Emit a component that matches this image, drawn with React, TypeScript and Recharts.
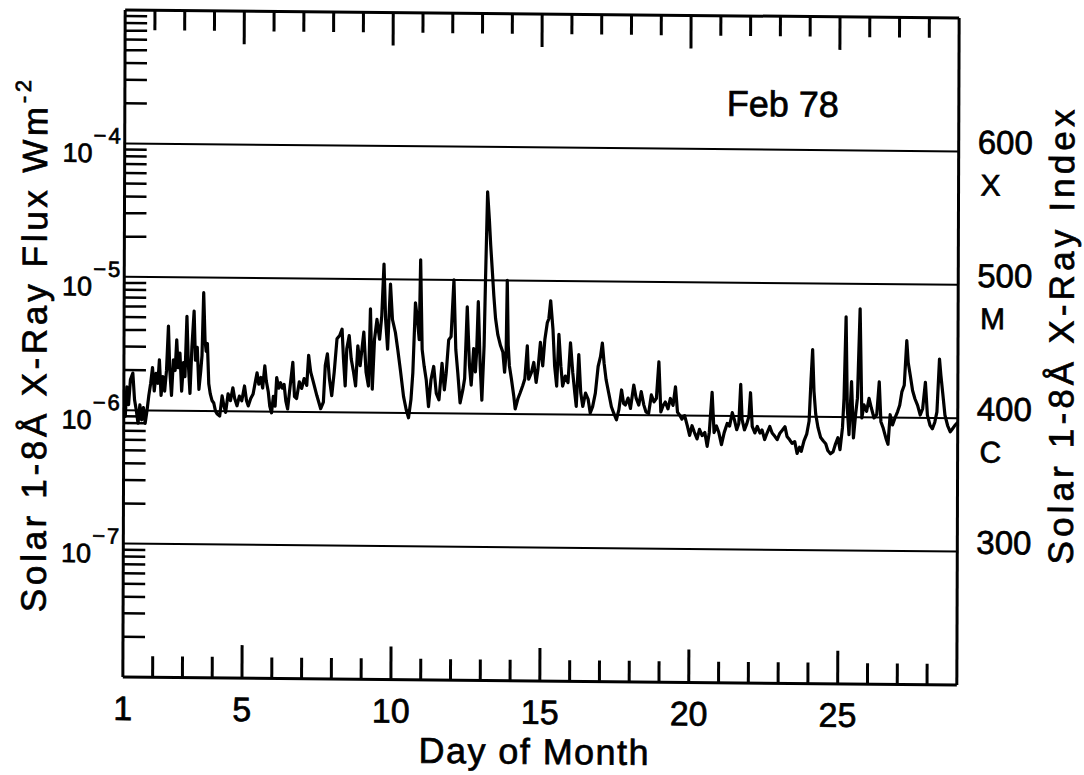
import React from 'react';
import { LineChart, Line, XAxis, YAxis, ReferenceLine } from 'recharts';

// Solar 1-8 Å X-ray flux, February 1978, in units of 1e-6 W m^-2 (C1 = 1.0)
const week1: [number, number][] = [
  [1.0, 1.3], [1.05, 0.9], [1.1, 1.5], [1.16, 1.1], [1.22, 1.7], [1.3, 1.9], [1.36, 1.2], [1.42, 1.0],
  [1.48, 0.8], [1.54, 1.1], [1.6, 0.85], [1.66, 1.05], [1.72, 0.8], [1.78, 1.0], [1.84, 1.3], [1.9, 1.6],
  [1.96, 2.1], [2.02, 1.4], [2.08, 1.9], [2.14, 1.6], [2.19, 2.4], [2.25, 1.3], [2.31, 1.8], [2.37, 1.4],
  [2.43, 2.0], [2.49, 4.3], [2.54, 2.0], [2.6, 1.3], [2.66, 2.4], [2.72, 2.0], [2.77, 3.4], [2.82, 2.1],
  [2.88, 2.7], [2.94, 1.4], [3.0, 2.3], [3.05, 1.8], [3.11, 5.1], [3.16, 2.3], [3.22, 1.35], [3.28, 3.0],
  [3.35, 5.6], [3.4, 2.4], [3.46, 3.0], [3.52, 1.45], [3.58, 2.0], [3.62, 2.6], [3.67, 7.7], [3.72, 3.4],
  [3.76, 2.8], [3.8, 3.2], [3.85, 1.6], [3.9, 1.35], [3.96, 1.2], [4.02, 1.15], [4.08, 1.0], [4.14, 0.95],
  [4.22, 0.92], [4.3, 1.3], [4.36, 1.1], [4.42, 0.98], [4.5, 1.35], [4.58, 1.2], [4.66, 1.5], [4.72, 1.25],
  [4.8, 1.1], [4.88, 1.3], [4.96, 1.2], [5.05, 1.55], [5.12, 1.2], [5.18, 1.1], [5.26, 1.25], [5.34, 1.35],
  [5.42, 1.7], [5.47, 1.95], [5.53, 1.6], [5.6, 1.8], [5.66, 1.5], [5.73, 2.2], [5.78, 1.7], [5.85, 1.4],
  [5.9, 1.1], [5.96, 0.98], [6.02, 1.3], [6.08, 1.1], [6.13, 1.8], [6.2, 1.5], [6.26, 1.65], [6.32, 1.5],
  [6.38, 1.6], [6.44, 1.2], [6.5, 1.05], [6.56, 1.4], [6.67, 2.35], [6.73, 1.3], [6.8, 1.26], [6.89, 1.68],
  [6.97, 1.5], [7.05, 1.78], [7.14, 1.58], [7.2, 2.66], [7.27, 2.0], [7.36, 1.68], [7.48, 1.33], [7.61, 1.06],
  [7.7, 1.19], [7.76, 2.24], [7.83, 2.74], [7.9, 1.78], [7.98, 1.33],
];

const week2: [number, number][] = [
  [8.06, 2.0], [8.15, 3.55], [8.24, 3.76], [8.32, 4.2], [8.37, 2.51], [8.43, 1.58], [8.48, 3.0], [8.56, 3.76],
  [8.63, 2.51], [8.71, 2.0], [8.78, 1.58], [8.85, 3.16], [8.93, 2.24], [8.99, 3.0], [9.05, 4.0], [9.13, 2.0],
  [9.21, 1.58], [9.27, 6.0], [9.34, 1.5], [9.41, 3.55], [9.49, 5.0], [9.58, 3.55], [9.65, 5.3], [9.72, 13.0],
  [9.78, 5.0], [9.85, 3.0], [9.94, 9.2], [10.01, 5.0], [10.11, 4.0], [10.19, 3.0], [10.28, 2.11], [10.39, 1.33],
  [10.48, 1.06], [10.56, 0.92], [10.64, 1.26], [10.7, 2.0], [10.78, 6.7], [10.85, 5.0], [10.91, 3.55],
  [10.95, 14.1], [11.01, 3.0], [11.08, 2.24], [11.15, 1.78], [11.23, 1.12], [11.31, 1.78], [11.4, 2.24],
  [11.49, 1.41], [11.58, 1.26], [11.68, 2.37], [11.76, 1.5], [11.82, 2.0], [11.9, 3.55], [11.98, 3.76],
  [12.07, 10.0], [12.14, 3.0], [12.21, 2.0], [12.29, 1.2], [12.38, 1.5], [12.44, 1.83], [12.52, 6.3],
  [12.6, 2.3], [12.66, 1.63], [12.74, 3.07], [12.8, 2.05], [12.84, 2.9], [12.89, 6.9], [12.96, 2.3],
  [13.02, 1.26], [13.09, 3.25], [13.13, 10.3], [13.19, 46], [13.25, 29], [13.3, 18.3], [13.36, 11.5],
  [13.41, 7.7], [13.47, 5.2], [13.55, 3.9], [13.64, 3.25], [13.72, 2.9], [13.78, 2.05], [13.83, 2.9],
  [13.86, 10], [13.9, 3.25], [13.94, 2.3], [14.01, 1.83], [14.09, 1.37], [14.14, 1.09], [14.23, 1.3],
  [14.31, 1.45], [14.39, 1.63], [14.46, 1.83], [14.54, 3.25], [14.59, 1.83], [14.68, 2.05], [14.76, 2.44],
  [14.84, 1.73], [14.9, 2.17], [14.98, 3.45],
];

const week3: [number, number][] = [
  [15.06, 2.3], [15.13, 3.65], [15.21, 4.87], [15.26, 5.2], [15.32, 7.1], [15.4, 4.34], [15.46, 2.3],
  [15.53, 1.63], [15.6, 3.98], [15.67, 2.3], [15.73, 1.63], [15.82, 1.94], [15.91, 1.73], [15.99, 3.45],
  [16.07, 2.05], [16.14, 1.45], [16.19, 1.15], [16.27, 2.82], [16.34, 1.45], [16.41, 1.15], [16.5, 1.45],
  [16.59, 1.3], [16.66, 1.03], [16.74, 1.15], [16.83, 1.45], [16.92, 2.3], [17.0, 2.74], [17.06, 3.45],
  [17.12, 2.44], [17.19, 1.83], [17.28, 1.45], [17.37, 1.15], [17.45, 1.03], [17.54, 0.92], [17.62, 1.09],
  [17.71, 1.54], [17.78, 1.22], [17.84, 1.19], [17.93, 1.34], [18.01, 1.12], [18.12, 1.68], [18.2, 1.34],
  [18.29, 1.19], [18.37, 1.5], [18.46, 1.19], [18.53, 1.06], [18.62, 1.03], [18.71, 1.42], [18.8, 1.26],
  [18.88, 1.34], [18.96, 2.52], [19.03, 1.06], [19.11, 1.19], [19.18, 1.26], [19.27, 1.12], [19.35, 1.34],
  [19.44, 1.19], [19.52, 1.64], [19.59, 1.06], [19.67, 1.0], [19.74, 0.94], [19.83, 1.0], [19.92, 0.84],
  [20.0, 0.71], [20.08, 0.84], [20.16, 0.75], [20.25, 0.67], [20.33, 0.79], [20.42, 0.71], [20.51, 0.75],
  [20.59, 0.59], [20.66, 0.75], [20.75, 1.5], [20.82, 0.75], [20.9, 0.84], [20.98, 0.75], [21.07, 0.61],
  [21.16, 0.75], [21.26, 0.88], [21.34, 0.84], [21.43, 1.06], [21.5, 0.94], [21.58, 0.79], [21.65, 0.88],
  [21.71, 1.73], [21.76, 0.94], [21.84, 0.79], [21.92, 0.88], [21.99, 1.0],
];

const week4: [number, number][] = [
  [22.04, 1.5], [22.1, 0.84], [22.19, 0.75], [22.27, 0.84], [22.36, 0.75], [22.43, 0.79], [22.52, 0.67],
  [22.6, 0.75], [22.69, 0.84], [22.77, 0.75], [22.86, 0.71], [22.94, 0.67], [23.03, 0.75], [23.11, 0.79],
  [23.2, 0.84], [23.27, 0.71], [23.36, 0.67], [23.44, 0.63], [23.53, 0.65], [23.61, 0.53], [23.69, 0.59],
  [23.75, 0.55], [23.84, 0.66], [23.93, 0.74], [24.01, 0.93], [24.07, 1.9], [24.12, 3.19], [24.17, 1.56],
  [24.23, 1.05], [24.31, 0.83], [24.4, 0.7], [24.49, 0.66], [24.57, 0.63], [24.64, 0.56], [24.73, 0.53],
  [24.82, 0.55], [24.9, 0.63], [24.98, 0.7], [25.05, 0.57], [25.13, 0.83], [25.18, 1.39], [25.24, 5.65],
  [25.29, 1.17], [25.35, 0.74], [25.43, 1.85], [25.5, 0.7], [25.57, 1.05], [25.63, 1.39], [25.71, 6.5],
  [25.78, 0.99], [25.85, 1.24], [25.94, 1.11], [26.02, 1.39], [26.1, 1.17], [26.19, 0.99], [26.28, 1.05],
  [26.36, 1.85], [26.42, 0.93], [26.5, 0.83], [26.59, 0.7], [26.66, 0.63], [26.73, 1.05], [26.81, 0.88],
  [26.89, 0.99], [26.98, 1.11], [27.05, 1.24], [27.12, 1.56], [27.2, 1.75], [27.28, 3.79], [27.33, 2.6],
  [27.4, 2.08], [27.48, 1.6], [27.56, 1.39], [27.65, 1.24], [27.74, 1.05], [27.82, 1.17], [27.91, 1.85],
  [27.98, 1.05], [28.07, 0.88], [28.15, 0.83], [28.23, 0.93], [28.3, 1.11], [28.38, 2.77], [28.43, 2.08],
  [28.49, 1.56], [28.57, 1.05], [28.66, 0.88], [28.75, 0.79], [28.82, 0.83], [28.9, 0.88], [29.0, 0.93],
];

// axis ticks and labels
const dayTicks = [1, 2, 3, 4, 5, 6, 7, 8, 9, 10, 11, 12, 13, 14, 15, 16, 17, 18, 19, 20, 21, 22, 23, 24, 25, 26, 27, 28];
const dayLabels = [1, 5, 10, 15, 20, 25];
const decades = [1e-8, 1e-7, 1e-6, 1e-5, 1e-4, 1e-3];
const minorSteps = [2, 3, 4, 5, 6, 7, 8, 9];
const gridDecades = [1e-4, 1e-5, 1e-6, 1e-7];
const indexTicks = [300, 400, 500, 600];
const flareClasses = ['', 'C', 'M', 'X'];

const data = [...week1, ...week2, ...week3, ...week4].map(([day, v]) => ({ day, flux: v * 1e-6 }));

const fluxTicks = decades
  .slice(0, 5)
  .flatMap((d) => [d, ...minorSteps.map((m) => m * d)])
  .concat([1e-3]);

const W = 1084;
const H = 775;
const LEFT = 124;
const RIGHT = 958;
const TOP = 14;
const BOTTOM = 681;
const AXIS = 1; // thickness reserved for each axis band
const FONT = '"Liberation Sans", Arial, sans-serif';
const INK = '#000';
// a thin outline on the lettering gives it the heavier pen-plotter weight
const PEN = { fontFamily: FONT, fill: INK, stroke: INK, strokeWidth: 0.7 };

const sameValue = (a: number, b: number) => Math.abs(a / b - 1) < 1e-6;

const FluxTick = (props: any) => {
  const { y, payload } = props;
  const v = payload.value;
  if (decades.some((d) => sameValue(v, d))) {
    if (!gridDecades.some((d) => sameValue(v, d))) return <g />;
    const exp = Math.round(Math.log10(v));
    return (
      <text x={LEFT - 2} y={y + 19} textAnchor="end" fontSize={27} {...PEN}>
        10
        <tspan dy={-19} dx={1} fontSize={22} letterSpacing={2}>
          {'\u2212' + Math.abs(exp)}
        </tspan>
      </text>
    );
  }
  return <line x1={LEFT} x2={LEFT + 22} y1={y} y2={y} stroke={INK} strokeWidth={2.5} />;
};

const DayTick = (props: any) => {
  const { x, payload } = props;
  const day = payload.value;
  const len = day % 5 === 0 ? 33 : 21;
  return (
    <g>
      {day > 1 && <line x1={x} x2={x} y1={BOTTOM} y2={BOTTOM - len} stroke={INK} strokeWidth={3} />}
      {dayLabels.includes(day) && (
        <text x={x} y={724} textAnchor="middle" fontSize={34} {...PEN}>
          {day}
        </text>
      )}
    </g>
  );
};

const TopDayTick = (props: any) => {
  const { x, payload } = props;
  const day = payload.value;
  if (day <= 1) return <g />;
  const len = day % 5 === 0 ? 33 : 20;
  return <line x1={x} x2={x} y1={TOP} y2={TOP + len} stroke={INK} strokeWidth={3} />;
};

const IndexTick = (props: any) => {
  const { y, payload } = props;
  const i = indexTicks.indexOf(payload.value);
  return (
    <g {...PEN}>
      <text x={977} y={y + 2} fontSize={33}>
        {payload.value}
      </text>
      {flareClasses[i] && (
        <text x={980} y={y + 44} fontSize={30}>
          {flareClasses[i]}
        </text>
      )}
    </g>
  );
};

const App = () => (
  <div
    style={{
      position: 'absolute',
      left: 0,
      top: 0,
      width: W,
      height: H,
      background: '#fff',
      transform: 'rotate(0.2deg) skewY(0.35deg)',
      transformOrigin: '541px 348px',
    }}
  >
    <LineChart
      width={W}
      height={H}
      data={data}
      margin={{ top: TOP - AXIS, right: W - RIGHT - AXIS, bottom: H - BOTTOM - AXIS, left: LEFT - AXIS }}
    >
      <XAxis
        xAxisId="day"
        dataKey="day"
        type="number"
        domain={[1, 29]}
        allowDataOverflow
        ticks={dayTicks}
        interval={0}
        height={AXIS}
        tickLine={false}
        axisLine={{ stroke: INK, strokeWidth: 3 }}
        tick={<DayTick />}
      />
      <XAxis
        xAxisId="top"
        orientation="top"
        dataKey="day"
        type="number"
        domain={[1, 29]}
        allowDataOverflow
        ticks={dayTicks}
        interval={0}
        height={AXIS}
        tickLine={false}
        axisLine={{ stroke: INK, strokeWidth: 3 }}
        tick={<TopDayTick />}
      />
      <YAxis
        yAxisId="flux"
        type="number"
        scale="log"
        domain={[1e-8, 1e-3]}
        allowDataOverflow
        ticks={fluxTicks}
        interval={0}
        width={AXIS}
        tickLine={false}
        axisLine={{ stroke: INK, strokeWidth: 3 }}
        tick={<FluxTick />}
      />
      <YAxis
        yAxisId="index"
        orientation="right"
        type="number"
        domain={[200, 700]}
        allowDataOverflow
        ticks={indexTicks}
        interval={0}
        width={AXIS}
        tickLine={false}
        axisLine={{ stroke: INK, strokeWidth: 3 }}
        tick={<IndexTick />}
      />
      {gridDecades.map((d) => (
        <ReferenceLine key={d} xAxisId="day" yAxisId="flux" y={d} stroke={INK} strokeWidth={2} />
      ))}
      <Line
        xAxisId="day"
        yAxisId="flux"
        dataKey="flux"
        type="linear"
        stroke="#000"
        strokeWidth={3.2}
        strokeLinejoin="round"
        dot={false}
        isAnimationActive={false}
      />
    </LineChart>
    <svg width={W} height={H} style={{ position: 'absolute', left: 0, top: 0 }} {...PEN}>
      <text x={726} y={114} fontSize={36}>
        Feb 78
      </text>
      <text x={535} y={764} textAnchor="middle" fontSize={36} textLength={230} lengthAdjust="spacing">
        Day of Month
      </text>
      <text
        transform="rotate(-90 34 351)"
        x={34}
        y={351}
        textAnchor="middle"
        dominantBaseline="central"
        fontSize={35}
        textLength={532}
        lengthAdjust="spacing"
      >
        Solar 1-8Å X-Ray Flux Wm
        <tspan dy={-12} fontSize={22}>
          -2
        </tspan>
      </text>
      <text
        transform="rotate(-90 1061 332)"
        x={1061}
        y={332}
        textAnchor="middle"
        dominantBaseline="central"
        fontSize={35}
        textLength={455}
        lengthAdjust="spacing"
      >
        Solar 1-8Å X-Ray Index
      </text>
    </svg>
  </div>
);

export default App;
